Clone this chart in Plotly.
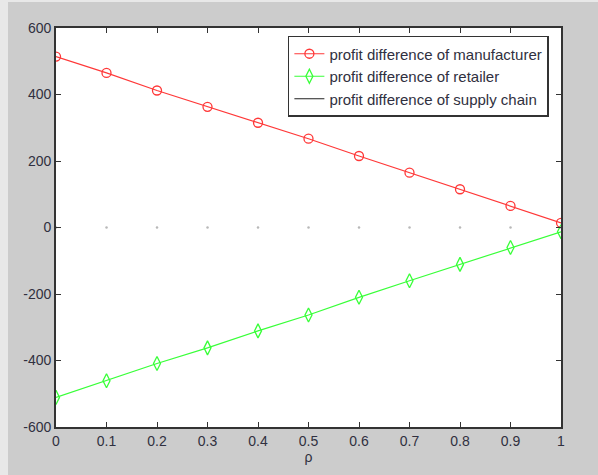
import plotly.graph_objects as go

rho = [0, 0.1, 0.2, 0.3, 0.4, 0.5, 0.6, 0.7, 0.8, 0.9, 1.0]
manufacturer = [514, 465, 412, 363, 315, 267, 215, 165, 115, 65, 14]
retailer = [-511, -461, -409, -362, -311, -263, -210, -160, -111, -60, -13]
supply_chain = [0, 0, 0, 0, 0, 0, 0, 0, 0, 0, 0]

x_ticks = [0, 0.1, 0.2, 0.3, 0.4, 0.5, 0.6, 0.7, 0.8, 0.9, 1]
x_tick_labels = ["0", "0.1", "0.2", "0.3", "0.4", "0.5", "0.6", "0.7", "0.8", "0.9", "1"]
y_ticks = [-600, -400, -200, 0, 200, 400, 600]
y_tick_labels = ["-600", "-400", "-200", "0", "200", "400", "600"]

font = "Liberation Sans, Arial, sans-serif"
red = "#ff3838"
green = "#38ff38"

fig = go.Figure()
fig.add_trace(go.Scatter(
    x=rho, y=manufacturer, mode="lines+markers",
    name="profit difference of manufacturer",
    line=dict(color=red, width=1.2),
    marker=dict(symbol="circle-open", size=9, color=red, line=dict(width=1.3)),
))
fig.add_trace(go.Scatter(
    x=rho, y=retailer, mode="lines+markers",
    name="profit difference of retailer",
    line=dict(color=green, width=1.2),
    marker=dict(symbol="diamond-tall-open", size=10, color=green, line=dict(width=1.3)),
))
fig.add_trace(go.Scatter(
    x=rho, y=supply_chain, mode="markers", showlegend=False,
    marker=dict(symbol="circle", size=2.5, color="#b8b8b8"),
    hoverinfo="skip",
))
fig.add_trace(go.Scatter(
    x=[None], y=[None], mode="lines",
    name="profit difference of supply chain",
    line=dict(color="#202020", width=1.2),
))

axis_common = dict(
    showgrid=False, zeroline=False, showline=True, mirror="ticks",
    linecolor="#333333", linewidth=1.6,
    ticks="inside", ticklen=5, tickcolor="#333333", tickwidth=1.2,
    tickfont=dict(family=font, size=14, color="#303040"),
)

fig.update_layout(
    width=598, height=475,
    paper_bgcolor="#cccccc", plot_bgcolor="white",
    margin=dict(l=48, r=45, t=26, b=50),
    font=dict(family=font, size=14, color="#303040"),
    xaxis=dict(range=[0, 1], tickvals=x_ticks, ticktext=x_tick_labels,
               title=dict(text="ρ", standoff=4, font=dict(size=14)), **axis_common),
    yaxis=dict(range=[-600, 600], tickvals=y_ticks, ticktext=y_tick_labels,
               **axis_common),
    legend=dict(
        x=0.976, y=0.98, xanchor="right", yanchor="top",
        bgcolor="white", bordercolor="#333333", borderwidth=1.5,
        font=dict(family=font, size=15, color="#303040"),
        itemwidth=30, tracegroupgap=0,
    ),
    showlegend=True,
)

fig.write_html(
    "out.html",
    post_script="document.body.style.margin='2px 0 0 8px';document.body.style.background='#e8e8e8';",
)
